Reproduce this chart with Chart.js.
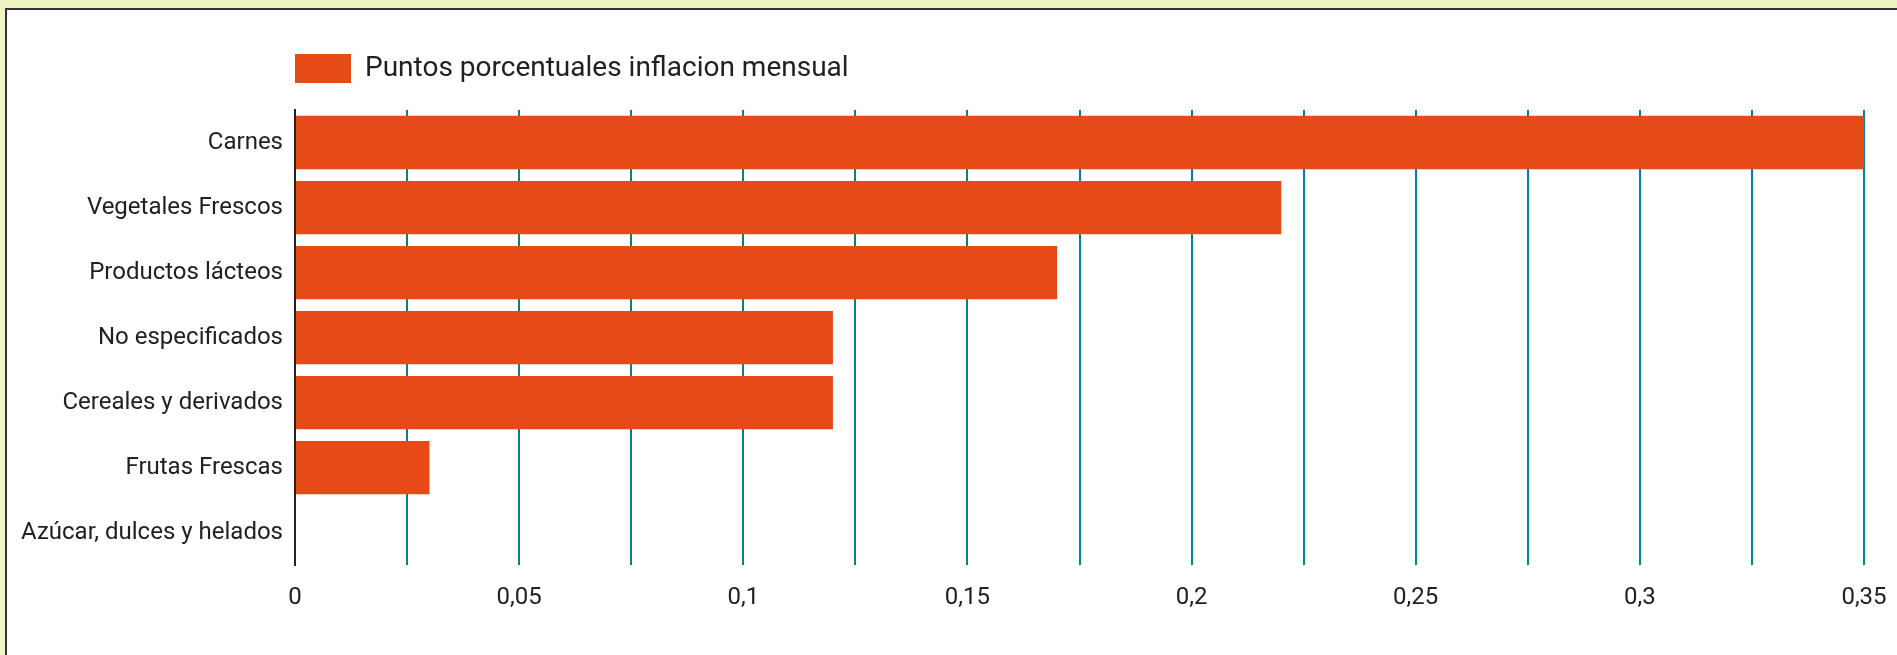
<!DOCTYPE html>
<html lang="es">
<head>
<meta charset="UTF-8">
<title>Puntos porcentuales inflacion mensual</title>
<script src="https://cdn.jsdelivr.net/npm/chart.js"></script>
<style>
    body { margin: 0; background-color: #f0f4c3; overflow: hidden; }
    .marco { position: absolute; left: 5px; top: 8px; width: 1900px; height: 660px;
             background: white; border-top: 2px solid #333; border-left: 2px solid #333; }
    .lienzo { position: absolute; left: 0; top: 0; width: 1897px; height: 655px; }
</style>
</head>
<body>
<div class="marco"></div>
<div class="lienzo"><canvas id="grafico"></canvas></div>
<script>
    const categorias = ["Carnes", "Vegetales Frescos", "Productos lácteos", "No especificados",
        "Cereales y derivados", "Frutas Frescas", "Azúcar, dulces y helados"];
    const puntos = [0.35, 0.22, 0.17, 0.12, 0.12, 0.03, 0];
    const serie = "Puntos porcentuales inflacion mensual";

    const naranja = "#e64a19";
    const verdeAzul = "#00838f";

    // legend a bit taller, and aligned with the plot's left edge
    const ajusteLeyenda = {
        id: "ajusteLeyenda",
        beforeInit(chart) {
            const fitOrig = chart.legend.fit;
            chart.legend.fit = function () {
                fitOrig.bind(chart.legend)();
                this.height += 17;
            };
        },
        afterLayout(chart) {
            chart.legend.left = chart.chartArea.left - 10;
        }
    };

    const ctx = document.getElementById("grafico").getContext("2d");
    new Chart(ctx, {
        type: "bar",
        data: {
            labels: categorias,
            datasets: [{
                label: serie,
                data: puntos,
                backgroundColor: naranja,
                borderWidth: 0,
                categoryPercentage: 0.82,
                barPercentage: 1
            }]
        },
        options: {
            indexAxis: "y",
            responsive: true,
            maintainAspectRatio: false,
            animation: false,
            layout: { padding: { top: 44, right: 33, left: 0, bottom: 25 } },
            scales: {
                x: {
                    min: 0,
                    max: 0.35,
                    afterFit: s => { s.paddingRight = 0; },
                    ticks: {
                        stepSize: 0.025,
                        color: "#212121",
                        padding: 18,
                        autoSkip: false,
                        maxRotation: 0,
                        font: { family: "Roboto", size: 24 },
                        callback: (v, i) => i % 2 === 0 ? String(Math.round(v * 1000) / 1000).replace(".", ",") : ""
                    },
                    grid: {
                        color: c => c.tick && c.tick.value === 0 ? "rgba(0,0,0,0)" : verdeAzul,
                        lineWidth: 2,
                        drawTicks: false
                    },
                    border: { display: false }
                },
                y: {
                    afterFit: s => { s.width = 295; },
                    ticks: {
                        color: "#212121",
                        padding: 12,
                        font: { family: "Roboto", size: 24 }
                    },
                    grid: { display: false, drawTicks: false },
                    border: { display: true, color: "#222", width: 2 }
                }
            },
            plugins: {
                legend: {
                    align: "start",
                    labels: {
                        boxWidth: 56,
                        boxHeight: 29,
                        padding: 10,
                        color: "#212121",
                        font: { family: "Roboto", size: 28 }
                    }
                },
                tooltip: { enabled: false }
            }
        },
        plugins: [ajusteLeyenda]
    });
</script>
</body>
</html>
